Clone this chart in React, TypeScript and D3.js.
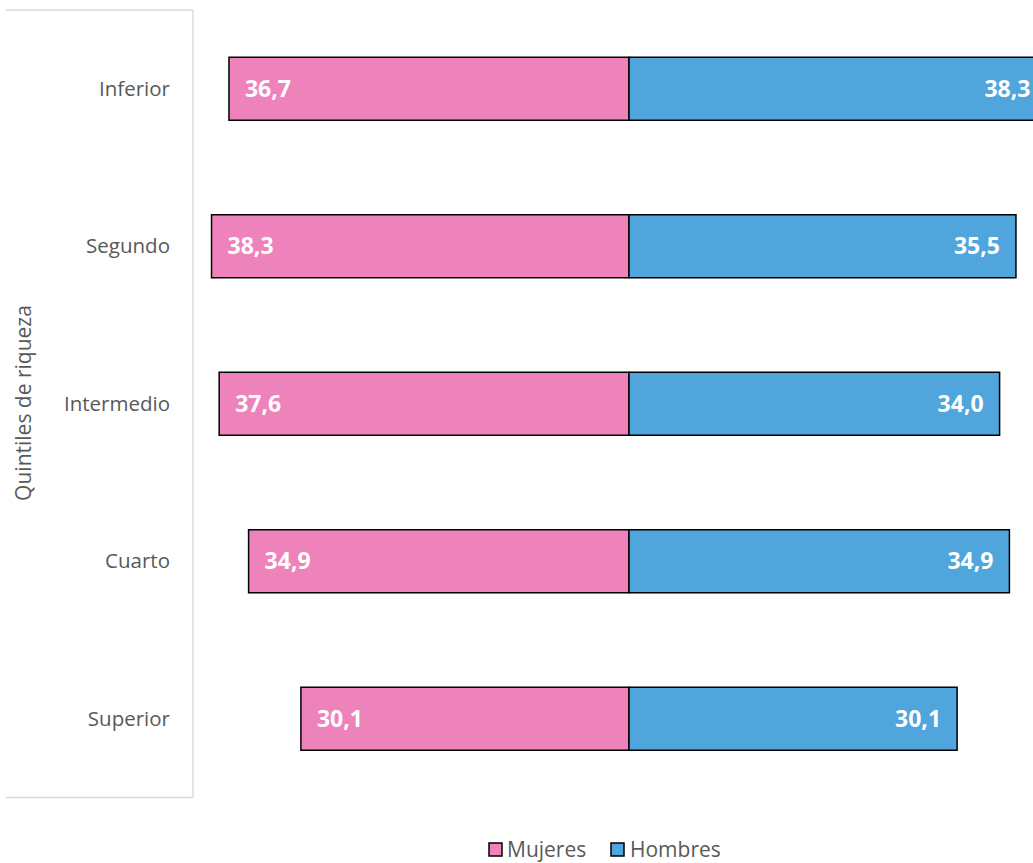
import React from "react";
import * as d3 from "d3";

const categories = ["Inferior", "Segundo", "Intermedio", "Cuarto", "Superior"];
const mujeres = [36.7, 38.3, 37.6, 34.9, 30.1];
const hombres = [38.3, 35.5, 34.0, 34.9, 30.1];
const seriesNames = ["Mujeres", "Hombres"];
const axisTitle = "Quintiles de riqueza";

const W = 1033;
const H = 863;
const PINK = "#EE83BC";
const BLUE = "#4FA5DC";
const FONT = "'Open Sans', 'Noto Sans', sans-serif";

export default function App() {
  const center = 629;
  const k = 10.9;
  const x = d3.scaleLinear().domain([-40, 40]).range([center - 40 * k, center + 40 * k]);
  const y = d3
    .scaleBand<string>()
    .domain(categories)
    .range([10, 797.5])
    .paddingInner(0.6)
    .paddingOuter(0.3);
  const fmt = (v: number) => v.toFixed(1).replace(".", ",");

  return (
    <svg
      width={W}
      height={H}
      style={{ position: "absolute", left: 0, top: 0, background: "#fff" }}
      fontFamily={FONT}
    >
      <g stroke="#D9D9D9" strokeWidth={1.3} fill="none">
        <line x1={6} x2={193} y1={10} y2={10} />
        <line x1={193} x2={193} y1={10} y2={797.5} />
        <line x1={6} x2={193} y1={797.5} y2={797.5} />
      </g>
      <text
        transform={`translate(31,403) rotate(-90)`}
        textAnchor="middle"
        fontSize={21}
        fill="#595959"
      >
        {axisTitle}
      </text>
      {categories.map((c, i) => {
        const y0 = y(c)!;
        const bw = y.bandwidth();
        const cy = y0 + bw / 2;
        const xl = x(-mujeres[i]);
        const xr = x(hombres[i]);
        return (
          <g key={c}>
            <text x={170} y={cy} dy="0.35em" textAnchor="end" fontSize={20.5} fill="#595959">
              {c}
            </text>
            <rect x={xl} y={y0} width={x(0) - xl} height={bw} fill={PINK} stroke="#000" strokeWidth={1.5} />
            <rect x={x(0)} y={y0} width={xr - x(0)} height={bw} fill={BLUE} stroke="#000" strokeWidth={1.5} />
            <text x={xl + 16} y={cy} dy="0.35em" fontSize={23} fontWeight="bold" fill="#fff">
              {fmt(mujeres[i])}
            </text>
            <text x={xr - 16} y={cy} dy="0.35em" textAnchor="end" fontSize={23} fontWeight="bold" fill="#fff">
              {fmt(hombres[i])}
            </text>
          </g>
        );
      })}
      <g fontSize={21} fill="#595959">
        <rect x={489} y={843} width={13} height={13} fill={PINK} stroke="#000" strokeWidth={1.5} />
        <text x={507} y={849.5} dy="0.35em">{seriesNames[0]}</text>
        <rect x={611} y={843} width={13} height={13} fill={BLUE} stroke="#000" strokeWidth={1.5} />
        <text x={630} y={849.5} dy="0.35em">{seriesNames[1]}</text>
      </g>
    </svg>
  );
}
